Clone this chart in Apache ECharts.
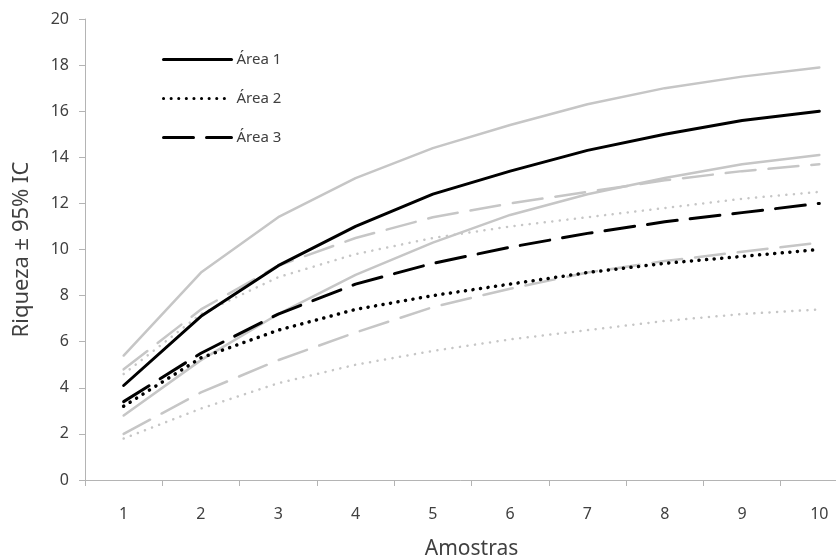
<!DOCTYPE html>
<html>
<head>
<meta charset="utf-8">
<script src="https://cdn.jsdelivr.net/npm/echarts@6/dist/echarts.min.js"></script>
<style>html,body{margin:0;padding:0;background:#fff}#c{width:836px;height:560px}</style>
</head>
<body>
<div id="c"></div>
<script>
const categories = ['1','2','3','4','5','6','7','8','9','10'];
const area1 = [4.1, 7.1, 9.3, 11.0, 12.4, 13.4, 14.3, 15.0, 15.6, 16.0];
const area1Up = [5.4, 9.0, 11.4, 13.1, 14.4, 15.4, 16.3, 17.0, 17.5, 17.9];
const area1Lo = [2.8, 5.2, 7.2, 8.9, 10.3, 11.5, 12.4, 13.1, 13.7, 14.1];
const area2 = [3.2, 5.3, 6.5, 7.4, 8.0, 8.5, 9.0, 9.4, 9.7, 10.0];
const area2Up = [4.6, 7.2, 8.8, 9.8, 10.5, 11.0, 11.4, 11.8, 12.2, 12.5];
const area2Lo = [1.8, 3.1, 4.2, 5.0, 5.6, 6.1, 6.5, 6.9, 7.2, 7.4];
const area3 = [3.4, 5.5, 7.2, 8.5, 9.4, 10.1, 10.7, 11.2, 11.6, 12.0];
const area3Up = [4.8, 7.4, 9.3, 10.5, 11.4, 12.0, 12.5, 13.0, 13.4, 13.7];
const area3Lo = [2.0, 3.8, 5.2, 6.4, 7.5, 8.3, 9.0, 9.5, 9.9, 10.3];
const yTicks = [0, 2, 4, 6, 8, 10, 12, 14, 16, 18, 20];

const GRAY = '#c6c6c6';
const TXT = '#404040';
const FONT = 'Noto Sans';
const solid = 'solid', dots = [0.1, 7.5], dash = [30, 13];

function ln(name, data, color, width, type) {
  return {
    name, type: 'line', data, symbol: 'none', silent: true, animation: false,
    lineStyle: { color, width, type, cap: 'round' }, itemStyle: { color }
  };
}

const chart = echarts.init(document.getElementById('c'), null, { renderer: 'canvas' });
chart.setOption({
  backgroundColor: '#fff',
  animation: false,
  grid: { left: 85, top: 19, width: 773, height: 461, containLabel: false, outerBoundsMode: 'none' },
  legend: {
    data: ['Área 1', 'Área 2', 'Área 3'],
    orient: 'vertical', left: 157, top: 47,
    itemWidth: 68, itemHeight: 14, itemGap: 24,
    textStyle: { color: TXT, fontSize: 15, fontFamily: FONT },
    lineStyle: { width: 3 },
    itemStyle: { opacity: 0, color: 'rgba(0,0,0,0)', borderWidth: 0 }
  },
  xAxis: {
    type: 'category', data: categories, boundaryGap: true,
    name: 'Amostras', nameLocation: 'middle', nameGap: 59,
    nameTextStyle: { color: TXT, fontSize: 21, fontFamily: FONT },
    axisLine: { lineStyle: { color: '#b4b4b4', width: 1 } },
    axisTick: { show: true, length: 6, lineStyle: { color: '#b4b4b4' } },
    axisLabel: { color: TXT, fontSize: 16, fontFamily: FONT, margin: 26 }
  },
  yAxis: {
    type: 'value', min: 0, max: 20, interval: 2,
    name: 'Riqueza ± 95% IC', nameLocation: 'middle', nameGap: 52,
    nameTextStyle: { color: TXT, fontSize: 22, fontFamily: FONT },
    axisLine: { show: true, lineStyle: { color: '#b4b4b4', width: 1 } },
    axisTick: { show: true, length: 6, lineStyle: { color: '#b4b4b4' } },
    splitLine: { show: false },
    axisLabel: { color: TXT, fontSize: 16, fontFamily: FONT, margin: 16,
      formatter: v => yTicks.includes(v) ? String(v) : '' }
  },
  series: [
    ln('Área 1 sup', area1Up, GRAY, 2.5, solid),
    ln('Área 1 inf', area1Lo, GRAY, 2.5, solid),
    ln('Área 2 sup', area2Up, GRAY, 2.5, dots),
    ln('Área 2 inf', area2Lo, GRAY, 2.5, dots),
    ln('Área 3 sup', area3Up, GRAY, 2.5, dash),
    ln('Área 3 inf', area3Lo, GRAY, 2.5, dash),
    ln('Área 1', area1, '#000', 3, solid),
    ln('Área 2', area2, '#000', 3.5, dots),
    ln('Área 3', area3, '#000', 3, dash)
  ]
});
</script>
</body>
</html>
